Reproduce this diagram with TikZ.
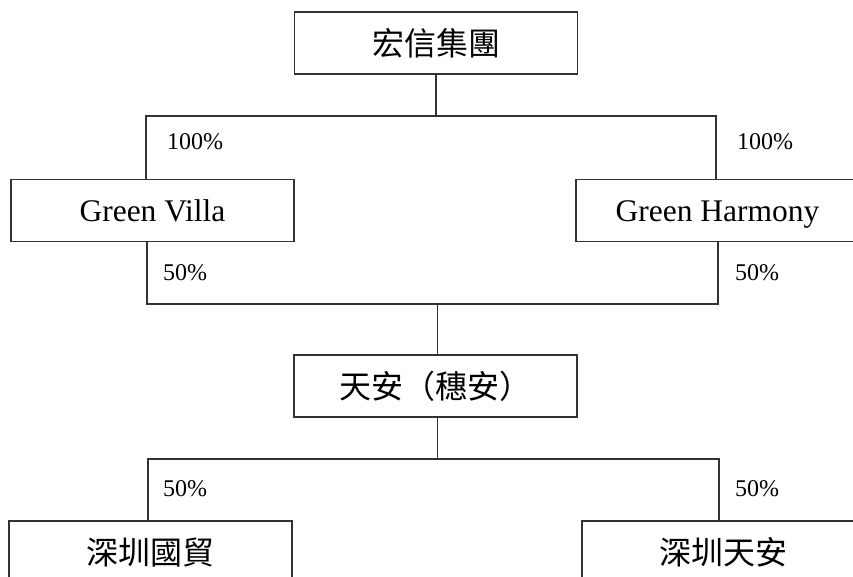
\documentclass[tikz,border=0pt]{standalone}
\usepackage{fontspec}
\setmainfont{Liberation Serif}
\newfontfamily\cjk{Noto Sans CJK TC}
\definecolor{linegray}{HTML}{333333}
\tikzset{
    company/.style={draw=linegray,line width=1.3pt,minimum width=283pt,minimum height=62pt,inner sep=0pt},
    share/.style={anchor=west,inner sep=0pt,font=\fontsize{24}{28}\selectfont}
}

\begin{document}
\begin{tikzpicture}[x=1pt,y=-1pt,
            cn/.style={font=\cjk\fontsize{32}{36}\selectfont},
            en/.style={font=\fontsize{31.5}{36}\selectfont,text height=22pt,text depth=0pt},
            link/.style={draw=linegray,line width=1.3pt}
            ]
            \useasboundingbox (0,0) rectangle (853,576);
            \clip (0,0) rectangle (853,576);
            % companies
            \node[company,cn] (hx) at (436,43) {宏信集團};
            \node[company,en] (gv) at (152.5,210.5) {Green Villa};
            \node[company,en] (gh) at (717.5,210.5) {Green Harmony};
            \node[company,cn] (ta) at (435.5,386) {天安（穗安）};
            \node[company,cn] (gm) at (150.5,552) {深圳國貿};
            \node[company,cn] (st) at (723.5,552) {深圳天安};
            % bus lines
            \coordinate (busa) at (hx.south |- 0,116);
            \coordinate (busal) at (146,116);
            \coordinate (busar) at (716,116);
            \coordinate (busb) at (437.5,304);
            \coordinate (busbl) at (147,304);
            \coordinate (busbr) at (718,304);
            \coordinate (busc) at (437.5,459);
            \coordinate (buscl) at (148,459);
            \coordinate (buscr) at (719,459);
            \draw[link] (hx.south) -- (busa);
            \draw[link] (busal |- gv.north) -- (busal) -- (busar) -- (busar |- gh.north);
            \draw[link] (busbl |- gv.south) -- (busbl) -- (busbr) -- (busbr |- gh.south);
            \draw[link] (busb) -- (busb |- ta.north);
            \draw[link] (busc |- ta.south) -- (busc);
            \draw[link] (buscl |- gm.north) -- (buscl) -- (buscr) -- (buscr |- st.north);
            % percentages
            \node[share] (pa) at (167,142) {100\%};
            \node[share] (pb) at (737,142) {100\%};
            \node[share] (pc) at (163,273) {50\%};
            \node[share] (pd) at (735,273) {50\%};
            \node[share] (pe) at (163,489) {50\%};
            \node[share] (pf) at (735,489) {50\%};
\end{tikzpicture}
\end{document}
